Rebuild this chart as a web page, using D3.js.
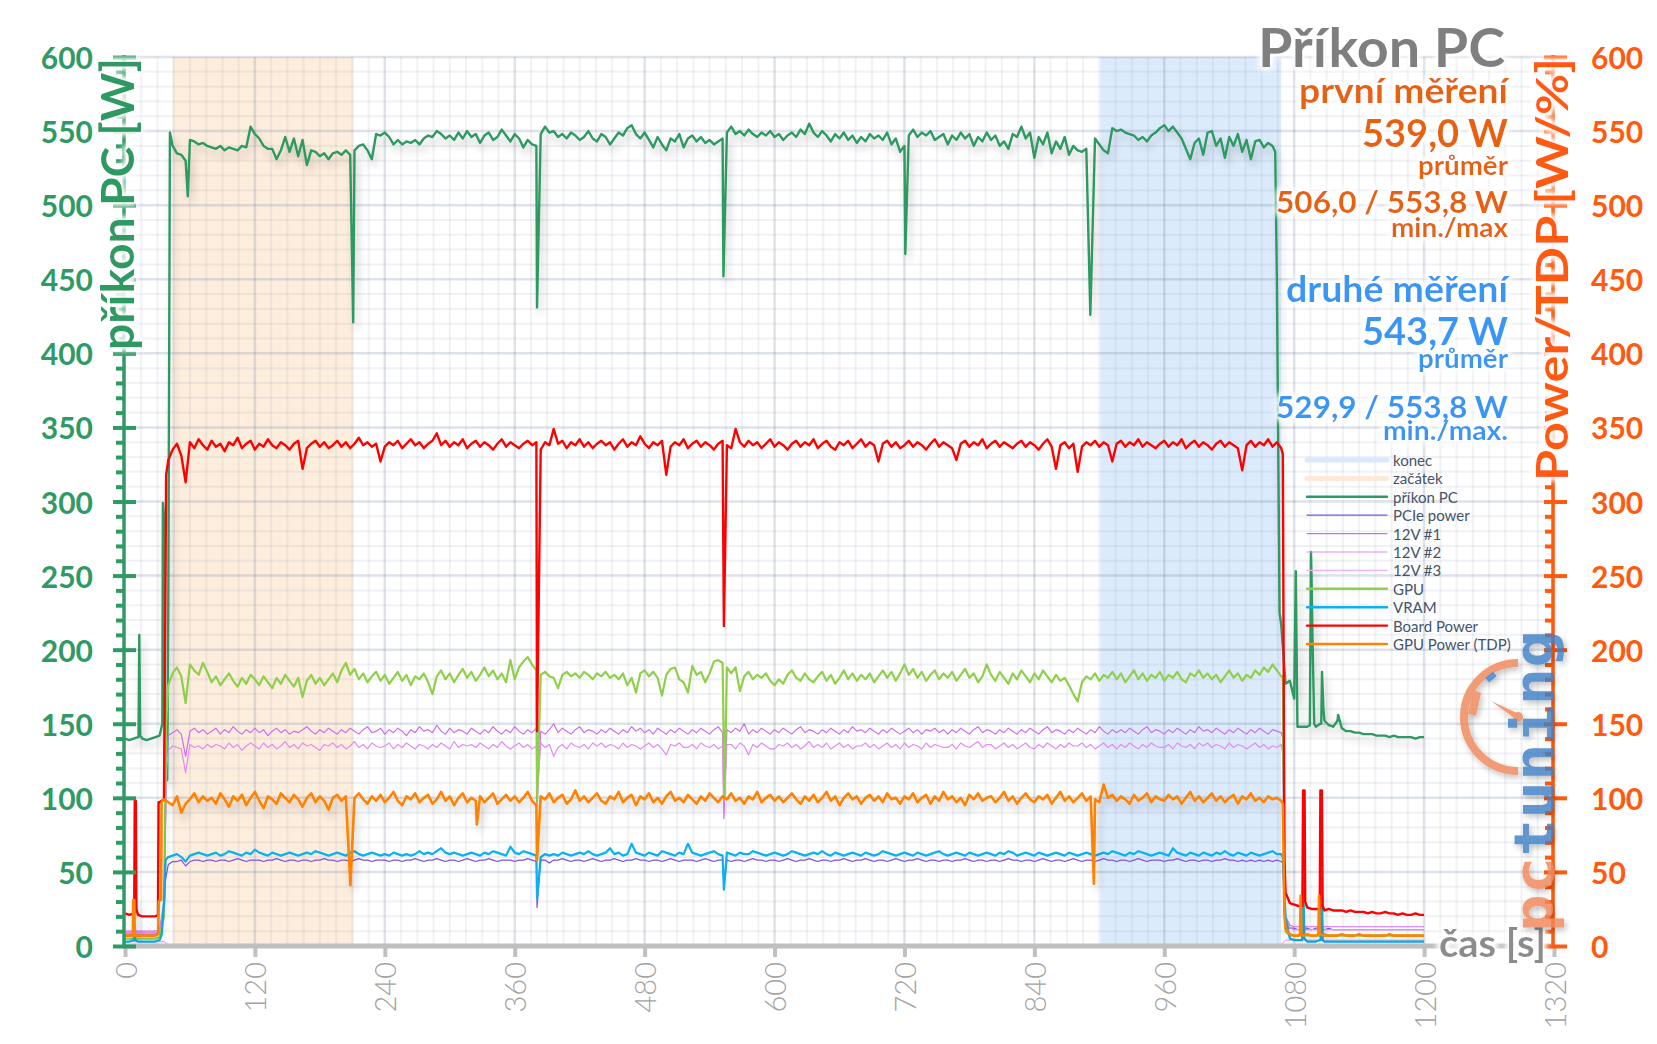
<!DOCTYPE html>
<html><head><meta charset="utf-8">
<script src="https://cdn.jsdelivr.net/npm/d3@7"></script>
<style>html,body{margin:0;padding:0;background:#fff;}svg{display:block;font-family:Lato,"Open Sans",sans-serif;}</style>
</head><body><svg id="c" width="1657" height="1044"></svg>
<script>
// ---------------- DATA ----------------
const STEP = 4; // seconds between samples in the value arrays (t = i*STEP, 0..1200)
const xTicks = [0,120,240,360,480,600,720,840,960,1080,1200,1320];
const yTicks = [0,50,100,150,200,250,300,350,400,450,500,550,600];
const startRange = [44, 211];   // "začátek"
const endRange = [901, 1068];   // "konec"
const titleText = "Příkon PC";
const leftTitle = "příkon PC [W]";
const rightTitle = "Power/TDP [W/%]";
const xTitle = "čas [s]";
const statsFirst = ["první měření","539,0 W","průměr","506,0 / 553,8 W","min./max"];
const statsSecond = ["druhé měření","543,7 W","průměr","529,9 / 553,8 W","min./max."];
const legendLabels = ["konec","začátek","příkon PC","PCIe power","12V #1","12V #2","12V #3","GPU","VRAM","Board Power","GPU Power (TDP)"];

const pcValues = [
140,139,140,141,140,139,140,141,142,290,
230,540,535,534,530,544,543,541,542,540,
539,538,540,537,539,538,537,540,539,553,
548,545,540,538,538,531,537,546,536,545,
533,544,527,537,536,533,535,531,535,536,
534,537,534,537,540,541,537,531,548,547,
549,546,541,544,541,543,542,544,541,545,
547,546,550,548,545,547,544,549,545,550,
546,548,542,547,549,544,546,551,547,543,
548,545,539,544,541,540,548,553,549,550,
546,548,545,549,547,544,546,550,545,543,
548,546,541,545,549,547,552,554,548,545,
549,544,539,546,541,537,545,543,548,539,
545,547,543,546,542,544,541,543,545,549,
553,548,550,547,551,548,546,549,547,550,
546,548,544,547,549,546,551,548,555,549,
546,550,547,543,548,545,549,544,547,542,
546,543,548,545,547,544,549,541,545,536,
540,547,551,546,549,547,550,544,546,548,
541,547,544,549,545,548,540,546,543,549,
544,547,540,543,538,548,546,553,545,549,
532,546,541,549,535,543,538,546,534,540,
537,536,538,541,545,541,537,535,552,550,
551,549,548,547,544,546,543,547,549,552,
554,550,553,549,545,538,531,542,545,534,
549,550,540,545,532,546,540,548,536,544,
531,543,544,539,542,540,450,217,177,179,
167,148,148,148,250,148,150,152,149,148,
152,147,145,145,144,144,143,143,143,142,
142,142,141,142,141,141,141,141,140,141,
141];
const pcEvents = [[12.5,141],[13.2,210],[14,142],[34.5,150],[35,299],[37,112],[39,112],[41.5,549],[58,506],[210.8,421],[380.6,431],[552.8,452],[720.8,467],[891.7,426],[1062.5,536],[1066.5,225],[1081.5,253],[1083,148],[1094.5,149],[1095.5,266],[1097,205],[1098.5,150],[1105,150],[1105.7,185],[1107,160],[1120.6,156]];

const boardValues = [
22,21,22,21,20,20,20,20,97,99,
328,335,339,331,313,340,336,342,338,335,
341,337,339,334,340,338,343,336,339,341,
335,339,337,342,338,336,340,338,335,339,
341,322,336,339,341,337,340,336,338,341,
337,340,336,339,343,338,340,337,339,327,
337,340,338,341,336,339,342,338,340,336,
339,341,346,338,341,337,340,338,342,336,
339,341,337,340,338,335,339,342,337,340,
338,336,339,341,338,340,335,340,338,349,
339,341,336,340,338,342,337,340,336,339,
341,338,340,335,339,342,337,340,338,344,
339,336,340,338,341,318,337,340,338,342,
336,339,341,337,340,338,335,339,341,338,
336,349,340,337,341,338,340,336,339,342,
337,340,338,335,339,341,337,340,338,342,
336,339,341,337,335,340,338,341,336,339,
342,337,340,338,327,339,341,337,340,336,
338,341,337,340,338,335,339,342,337,340,
338,336,328,339,341,337,340,338,342,336,
339,341,337,340,338,336,339,341,337,340,
338,335,339,342,337,322,338,340,336,339,
320,337,340,338,341,337,340,338,327,339,
341,337,340,338,342,337,340,338,336,339,
341,337,340,338,342,336,339,341,337,340,
338,335,339,341,337,340,338,336,321,338,
341,337,340,338,342,337,340,336,36,29,
28,27,26,26,25,25,25,24,25,24,
24,24,23,24,23,23,23,22,23,22,
22,23,22,22,21,22,21,21,22,21,
21];
const boardEvents = [[8.5,22],[9,98],[10,98],[10.5,25],[30.5,21],[31,97],[37,200],[38,318],[380.6,145],[553.2,216],[1069.5,332],[1071,60],[1087.6,27],[1088.2,105],[1089.6,105],[1090.2,30],[1103.6,25],[1104.2,105],[1105.6,105],[1106.3,27]];

const tdpValues = [
7,7,7,7,7,7,7,7,31,99,
97,95,101,90,96,99,103,97,101,98,
100,96,103,99,94,101,98,102,95,100,
104,98,93,101,99,96,103,100,97,102,
99,94,100,103,97,101,98,92,100,102,
98,101,97,100,103,99,96,101,98,102,
97,100,104,98,95,101,99,103,97,100,
102,96,99,104,98,101,95,100,103,97,
100,98,101,97,100,103,96,99,102,98,
101,97,100,104,98,95,101,99,103,97,
100,102,96,99,105,98,101,97,100,103,
98,96,101,99,104,97,100,102,95,101,
99,103,97,100,96,101,104,98,100,97,
102,99,96,101,98,103,100,97,101,99,
103,98,100,96,101,99,104,97,100,102,
98,101,97,100,103,99,96,101,98,102,
97,100,104,98,101,95,100,103,99,101,
96,100,102,98,101,97,103,99,100,96,
101,99,103,97,100,102,96,101,98,104,
99,101,97,100,95,102,99,103,98,100,
101,97,100,104,98,101,96,100,103,99,
97,101,99,102,96,100,104,98,101,97,
100,103,98,101,99,97,109,100,102,98,
101,99,96,102,98,100,103,97,101,99,
98,102,99,101,96,100,104,98,101,97,
100,103,98,101,97,100,102,96,101,99,
103,98,100,97,101,99,100,98,12,8,
7,7,7,8,7,7,7,7,7,7,
7,8,7,7,7,8,7,7,7,7,
7,7,8,7,7,7,7,7,7,7,
7];
const tdpEvents = [[7.2,7],[7.6,31],[8.6,31],[9,7],[30.6,8],[31.2,30],[33.4,31],[33.8,97],[208.2,41],[325,82],[380.6,58],[895,42],[1069.5,96],[1071,21],[1085.4,8],[1086,34],[1086.8,8],[1102.4,8],[1103,34],[1103.6,8]];

const vramValues = [
3,3,4,3,3,3,3,3,4,30,
60,61,62,60,57,61,62,63,62,61,
62,63,61,62,64,63,62,61,63,62,
65,63,62,61,63,62,61,62,63,62,
61,62,63,62,64,63,62,61,62,63,
62,61,63,64,62,61,62,63,62,61,
62,61,63,62,61,62,61,62,64,62,
63,62,64,66,63,62,63,62,61,62,
63,62,61,63,62,64,63,62,61,67,
63,62,64,63,62,61,60,62,61,62,
61,63,62,61,62,63,62,64,62,61,
62,63,66,62,63,61,62,69,63,62,
61,63,62,61,64,63,62,61,63,62,
69,63,62,61,62,63,64,62,61,63,
62,61,63,62,62,64,63,62,61,62,
63,62,61,62,64,63,62,61,62,63,
62,64,62,61,63,62,61,62,63,62,
61,63,62,61,62,64,63,62,61,62,
63,62,61,63,62,61,62,63,64,62,
61,62,63,62,61,63,62,61,62,63,
62,61,63,62,64,63,61,62,63,62,
61,63,62,61,62,63,62,61,63,62,
61,62,63,62,61,62,63,62,64,63,
62,61,63,62,64,63,62,61,62,63,
62,61,66,63,62,61,63,62,61,63,
62,61,63,62,64,62,61,63,62,61,
63,62,61,62,63,64,62,62,20,5,
4,4,4,3,3,3,4,3,3,3,
3,3,3,3,3,3,3,3,3,3,
3,3,3,3,3,3,3,3,3,3,
3];
const vramEvents = [[8.2,4],[8.7,16],[9.4,4],[34,8],[37.5,58],[380.6,32],[553.2,38],[1069.5,60],[1070.5,44],[1087.4,4],[1088.3,47],[1089.4,5],[1104.4,4],[1105.3,47],[1106.4,4]];

const pcieValues = [
8,8,8,8,8,8,8,8,9,20,
55,57,57,58,54,57,58,58,57,58,
58,57,58,58,57,58,59,58,57,58,
58,58,57,58,58,59,58,57,58,58,
57,58,58,57,58,58,59,58,58,57,
58,58,57,58,59,58,58,57,58,58,
58,57,58,58,57,58,58,59,58,57,
58,58,59,58,57,58,58,57,58,59,
58,57,58,58,59,58,57,58,58,58,
57,58,58,59,58,57,58,58,56,58,
58,59,58,57,58,58,57,58,59,58,
57,58,58,59,58,57,58,58,59,58,
58,57,58,58,57,58,59,58,57,58,
58,58,57,58,59,58,57,58,58,58,
57,58,58,57,58,59,58,58,57,58,
58,57,58,59,58,57,58,58,59,58,
57,58,58,57,58,58,59,58,57,58,
58,59,58,57,58,58,57,58,59,58,
57,58,58,59,58,57,58,58,57,58,
58,57,58,58,59,58,57,58,58,57,
58,58,57,58,59,58,58,57,58,58,
57,58,59,58,57,58,58,57,58,59,
58,57,58,58,57,58,59,58,58,57,
58,58,57,58,59,58,57,58,58,58,
57,58,58,59,58,57,58,58,57,58,
58,57,58,58,59,58,58,57,58,57,
58,57,58,57,58,57,58,57,14,12,
12,11,12,12,11,12,12,11,12,11,
11,11,11,11,11,11,11,11,11,11,
11,11,11,11,11,11,11,11,11,11,
11];
const pcieEvents = [[37.5,45],[380.6,26],[553.2,39],[1069.5,56],[1071,20],[1087.5,12],[1088.3,22],[1089.3,12],[1104.5,12],[1105.3,22],[1106.3,12]];

const v12aValues = [
10,10,10,10,10,10,10,10,11,30,
142,144,146,143,128,145,147,144,146,143,
145,147,143,146,144,148,145,143,146,144,
147,144,146,142,145,147,144,146,143,145,
144,146,148,145,143,146,144,147,145,143,
146,144,147,145,143,146,148,144,145,147,
143,146,144,147,145,142,146,144,148,145,
146,144,149,145,143,147,144,146,145,143,
147,145,143,146,144,148,145,143,146,144,
148,145,143,146,144,147,145,143,146,150,
144,147,145,143,146,148,144,146,145,143,
146,144,147,145,143,146,144,148,145,147,
144,146,143,147,145,143,146,144,147,145,
143,146,144,147,145,143,146,148,144,146,
144,147,145,150,143,146,144,147,145,143,
146,144,147,145,143,146,148,144,146,145,
143,146,144,147,145,143,146,144,148,145,
146,144,147,145,143,146,144,147,145,143,
145,147,144,146,143,146,145,147,144,146,
143,146,144,147,145,143,146,148,144,146,
145,143,146,144,147,145,143,146,144,147,
145,143,146,148,144,146,145,143,146,144,
147,145,143,146,144,148,145,143,146,144,
146,144,147,145,143,146,148,144,146,145,
143,146,144,147,145,143,146,144,148,145,
146,144,147,145,143,146,144,147,145,143,
146,144,147,145,143,146,145,144,20,14,
13,13,13,13,13,13,13,13,13,13,
13,13,13,13,13,13,13,13,13,13,
13,13,13,13,13,13,13,13,13,13,
13];
const v12aEvents = [[38.5,130],[380.6,95],[553.2,86],[1069.5,140],[1071,40]];

const v12bValues = [
9,9,9,9,9,9,9,9,10,28,
132,135,134,133,117,136,134,135,133,136,
134,136,135,133,137,134,136,132,135,137,
135,133,137,134,136,133,135,138,134,136,
133,137,135,136,134,132,136,135,137,134,
136,133,135,138,134,136,133,137,135,134,
135,137,133,136,134,137,135,133,136,135,
133,136,134,137,135,133,138,134,136,135,
136,134,137,135,133,136,134,138,135,133,
135,137,134,136,133,135,137,134,136,128,
134,136,133,137,135,134,136,133,137,135,
137,134,136,135,133,137,134,136,135,133,
135,137,134,136,133,129,136,135,137,134,
134,136,133,137,135,134,136,133,135,136,
136,133,137,135,129,136,134,137,135,133,
133,136,135,137,134,136,133,135,138,134,
136,134,137,133,135,137,134,136,133,135,
135,137,134,136,133,135,137,134,136,133,
137,134,136,135,133,137,134,136,135,134,
134,136,133,137,135,134,136,138,134,136,
136,133,135,137,134,136,133,135,137,134,
133,136,134,137,135,133,136,134,137,135,
135,137,134,136,133,135,137,134,136,133,
136,134,137,135,133,136,134,137,135,134,
134,136,133,137,135,134,136,133,137,135,
137,134,136,135,133,137,134,136,135,133,
135,137,134,136,133,135,134,136,18,12,
11,11,11,11,11,11,11,11,11,11,
11,11,11,11,11,11,11,11,11,11,
11,11,11,11,11,11,11,11,11,11,
11];
const v12bEvents = [[38.5,120],[380.6,98],[553.2,90],[1069.5,130],[1071,38]];

const v12cValues = null;
const v12cEvents = [[0,3],[36,3],[40,1],[1068,1],[1072,4],[1200,4]];

const gpuValues = [
5,5,5,5,5,5,5,5,6,20,
176,184,188,182,164,190,186,183,191,185,
178,182,176,180,184,179,175,181,177,183,
180,176,182,178,174,181,177,183,179,175,
181,168,179,183,177,181,176,180,184,178,
186,191,183,187,180,184,178,182,185,179,
183,177,181,185,179,183,176,182,180,184,
178,170,182,186,180,184,178,183,187,181,
185,179,183,188,182,186,180,184,178,193,
180,188,192,195,190,186,183,185,182,181,
174,183,185,182,184,181,185,183,180,184,
182,185,181,183,180,184,176,181,171,184,
186,182,185,181,169,183,187,188,180,178,
171,189,183,185,178,184,192,193,191,188,
184,188,172,182,185,180,183,181,184,179,
176,180,177,183,186,181,179,184,180,178,
182,185,179,183,177,181,186,180,184,179,
183,180,184,178,182,186,181,185,179,184,
190,183,187,181,185,179,183,186,180,184,
181,185,179,183,187,181,184,178,182,190,
183,179,185,181,177,184,180,186,182,178,
184,180,186,182,178,183,179,181,176,170,
165,178,182,180,184,179,183,181,185,180,
184,178,182,186,180,184,179,183,181,185,
179,183,181,185,180,178,184,182,186,181,
184,180,183,178,182,186,181,184,179,183,
181,186,183,188,185,190,186,182,10,7,
7,7,8,7,7,7,7,8,7,7,
7,7,7,7,7,7,7,7,7,7,
7,7,7,7,7,7,7,7,7,7,
7];
const gpuEvents = [[38,150],[380.6,98],[553.8,100],[1069.5,182],[1071,40],[1087.5,7],[1088.3,25],[1089.3,8],[1104.5,7],[1105.3,25],[1106.3,7]];

// ---------------- CHART ----------------
const svg = d3.select('#c');
const L = 125, R = 1554, T = 57, B = 946;
const x = d3.scaleLinear().domain([0,1320]).range([L,R]);
const y = d3.scaleLinear().domain([0,600]).range([B,T]);

const defs = svg.append('defs');
const glow = defs.append('filter').attr('id','glow').attr('x','-20%').attr('y','-20%').attr('width','140%').attr('height','140%');
glow.append('feMorphology').attr('in','SourceAlpha').attr('operator','dilate').attr('radius',2).attr('result','d');
glow.append('feGaussianBlur').attr('in','d').attr('stdDeviation',3).attr('result','b');
glow.append('feFlood').attr('flood-color','#fff').attr('flood-opacity',0.95).attr('result','f');
glow.append('feComposite').attr('in','f').attr('in2','b').attr('operator','in').attr('result','g');
const gm = glow.append('feMerge'); gm.append('feMergeNode').attr('in','g'); gm.append('feMergeNode').attr('in','g'); gm.append('feMergeNode').attr('in','SourceGraphic');

const sh = defs.append('filter').attr('id','shadow').attr('filterUnits','userSpaceOnUse').attr('x',0).attr('y',0).attr('width',1657).attr('height',1044);
sh.append('feGaussianBlur').attr('in','SourceAlpha').attr('stdDeviation',4).attr('result','bl');
sh.append('feOffset').attr('in','bl').attr('dx',3).attr('dy',6).attr('result','of');
const ct = sh.append('feComponentTransfer').attr('in','of').attr('result','sa'); ct.append('feFuncA').attr('type','linear').attr('slope',0.22);
const sm = sh.append('feMerge'); sm.append('feMergeNode').attr('in','sa'); sm.append('feMergeNode').attr('in','SourceGraphic');

const lsh = defs.append('filter').attr('id','logoShadow').attr('x','-30%').attr('y','-10%').attr('width','160%').attr('height','120%');
lsh.append('feGaussianBlur').attr('in','SourceAlpha').attr('stdDeviation',3).attr('result','bl');
lsh.append('feOffset').attr('in','bl').attr('dx',2).attr('dy',3).attr('result','of');
const lct = lsh.append('feComponentTransfer').attr('in','of').attr('result','sa'); lct.append('feFuncA').attr('type','linear').attr('slope',0.3);
const lsm = lsh.append('feMerge'); lsm.append('feMergeNode').attr('in','sa'); lsm.append('feMergeNode').attr('in','SourceGraphic');

// shaded ranges
const ranges = [{r:startRange,c:'#fdeddd'},{r:endRange,c:'#dcebfc'}];
svg.append('g').selectAll('rect').data(ranges).join('rect')
  .attr('x',d=>x(d.r[0])).attr('width',d=>x(d.r[1])-x(d.r[0]))
  .attr('y',T).attr('height',B-T).attr('fill',d=>d.c);

// grid
const gGrid = svg.append('g');
const vMinor = d3.range(0,1321,15).filter(t=>t%120!==0);
const vMajor = d3.range(120,1321,120);
const hMinor = d3.range(10,601,10).filter(v=>v%50!==0);
const hMajor = d3.range(50,601,50);
gGrid.selectAll('.vm').data(vMinor).join('line').attr('x1',d=>x(d)).attr('x2',d=>x(d)).attr('y1',T).attr('y2',B).attr('stroke','#7d8db0').attr('stroke-opacity',0.11).attr('stroke-width',2);
gGrid.selectAll('.hm').data(hMinor).join('line').attr('x1',L).attr('x2',R).attr('y1',d=>y(d)).attr('y2',d=>y(d)).attr('stroke','#7d8db0').attr('stroke-opacity',0.11).attr('stroke-width',2);
gGrid.selectAll('.vM').data(vMajor).join('line').attr('x1',d=>x(d)).attr('x2',d=>x(d)).attr('y1',T).attr('y2',B).attr('stroke','#6b7a9c').attr('stroke-opacity',0.22).attr('stroke-width',2.5);
gGrid.selectAll('.hM').data(hMajor).join('line').attr('x1',L).attr('x2',R).attr('y1',d=>y(d)).attr('y2',d=>y(d)).attr('stroke','#6b7a9c').attr('stroke-opacity',0.22).attr('stroke-width',2.5);

// series
function build(values, events){
  const ev = events.map(([t,v])=>({t,v}));
  const pts = [];
  if (values) values.forEach((v,i)=>{const t=i*STEP; if(!ev.some(e=>Math.abs(e.t-t)<0.5)) pts.push({t,v});});
  return pts.concat(ev).sort((a,b)=>a.t-b.t);
}
const series = [
  {name:'příkon PC', d:build(pcValues,pcEvents), c:'#2e9961', w:2.4, shadow:true},
  {name:'PCIe power', d:build(pcieValues,pcieEvents), c:'#7b52e6', w:1.2},
  {name:'12V #1', d:build(v12aValues,v12aEvents), c:'#cf6cf0', w:1.2},
  {name:'12V #2', d:build(v12bValues,v12bEvents), c:'#e48af2', w:1.2},
  {name:'12V #3', d:build(v12cValues,v12cEvents), c:'#f0b0f6', w:1.2},
  {name:'GPU', d:build(gpuValues,gpuEvents), c:'#8fcf4c', w:2.2},
  {name:'VRAM', d:build(vramValues,vramEvents), c:'#0db0f0', w:2.2},
  {name:'Board Power', d:build(boardValues,boardEvents), c:'#ff0000', w:2.4},
  {name:'GPU Power (TDP)', d:build(tdpValues,tdpEvents), c:'#ff8205', w:2.6, shadow:true}
];
const line = d3.line().x(d=>x(d.t)).y(d=>y(d.v)).curve(d3.curveLinear);
svg.append('g').selectAll('path').data(series).join('path')
  .attr('d',s=>line(s.d)).attr('fill','none').attr('stroke',s=>s.c).attr('stroke-width',s=>s.w)
  .attr('stroke-linejoin','round').attr('filter',s=>s.shadow?'url(#shadow)':null);

// x axis
const xAxis = d3.axisBottom(x).tickValues(xTicks).tickSize(11).tickFormat('');
const gx = svg.append('g').attr('transform',`translate(0,${B})`).call(xAxis);
gx.select('.domain').attr('stroke','#bfbfbf').attr('stroke-width',5).attr('d',`M${L-2},0H${R}`);
gx.selectAll('.tick line').attr('stroke','#c0c0c0').attr('stroke-width',4);
svg.append('g').selectAll('text').data(xTicks).join('text')
  .attr('transform',d=>`translate(${x(d)},962) rotate(-90)`)
  .attr('text-anchor','end').attr('dominant-baseline','central')
  .attr('font-size',29).attr('font-weight',300).attr('fill','#a3a3a3').text(d=>d);

// left axis
const green = '#2f9a64';
const gl = svg.append('g').attr('transform',`translate(${L-1},0)`);
gl.call(d3.axisLeft(y).tickValues(d3.range(0,601,10).filter(v=>v%50)).tickSize(8).tickFormat(''));
gl.call(g=>g.selectAll('.tick line').attr('stroke',green).attr('stroke-width',4));
const gl2 = svg.append('g').attr('transform',`translate(${L-1},0)`).call(d3.axisLeft(y).tickValues(yTicks).tickSize(11).tickFormat(''));
gl2.selectAll('.tick line').attr('stroke',green).attr('stroke-width',4).attr('x2',-11).attr('x1',12);
gl.select('.domain').remove(); gl2.select('.domain').attr('stroke',green).attr('stroke-width',3.5).attr('d',`M0,${T-2}V${B}`);
svg.append('g').selectAll('text').data(yTicks).join('text')
  .attr('x',93).attr('y',d=>y(d)).attr('text-anchor','end').attr('dominant-baseline','central')
  .attr('font-size',30).attr('font-weight',700).attr('fill',green).text(d=>d);

// right axis
const orange = '#ff5a0d';
const gr = svg.append('g').attr('transform',`translate(${R-1},0)`);
gr.call(d3.axisLeft(y).tickValues(d3.range(0,601,10).filter(v=>v%50)).tickSize(8).tickFormat(''));
gr.selectAll('.tick line').attr('stroke',orange).attr('stroke-width',4);
gr.select('.domain').remove();
const gr2 = svg.append('g').attr('transform',`translate(${R-1},0)`).call(d3.axisRight(y).tickValues(yTicks).tickSize(14).tickFormat(''));
gr2.selectAll('.tick line').attr('stroke',orange).attr('stroke-width',4).attr('x1',-9);
gr2.select('.domain').attr('stroke',orange).attr('stroke-width',3.5).attr('d',`M0,${T-2}V${B}`);
svg.append('g').selectAll('text').data(yTicks).join('text')
  .attr('x',1591).attr('y',d=>y(d)).attr('text-anchor','start').attr('dominant-baseline','central')
  .attr('font-size',30).attr('font-weight',700).attr('fill',orange).text(d=>d);

// axis titles
svg.append('text').attr('transform','translate(134,58) rotate(-90)').attr('text-anchor','end')
  .attr('font-size',45).attr('font-weight',700).attr('fill',green).attr('filter','url(#glow)')
  .attr('textLength',292).attr('lengthAdjust','spacingAndGlyphs').text(leftTitle);
svg.append('text').attr('transform','translate(1568,58) rotate(-90)').attr('text-anchor','end')
  .attr('font-size',44).attr('font-weight',700).attr('fill',orange).attr('filter','url(#glow)')
  .attr('textLength',423).attr('lengthAdjust','spacingAndGlyphs').text(rightTitle);
svg.append('text').attr('x',1546).attr('y',957).attr('text-anchor','end')
  .attr('font-size',38).attr('font-weight',700).attr('fill','#8c8c8c').attr('filter','url(#glow)')
  .attr('textLength',107).attr('lengthAdjust','spacingAndGlyphs').text(xTitle);

// title and stats
const gT = svg.append('g').attr('filter','url(#glow)').attr('font-weight',700).attr('text-anchor','end');
gT.append('text').attr('x',1505).attr('y',67).attr('font-size',54).attr('fill','#7f7f7f')
  .attr('textLength',247).attr('lengthAdjust','spacingAndGlyphs').text(titleText);
const firstPos = [[103,35,209],[147,38,146],[175,27,90],[213,31,232],[237,27,117]];
const secondPos = [[302,36,222],[345,38,146],[368,27,90],[418,31,232],[440,27,125]];
gT.selectAll('.f').data(statsFirst).join('text').attr('x',1508).attr('y',(d,i)=>firstPos[i][0])
  .attr('font-size',(d,i)=>firstPos[i][1]).attr('textLength',(d,i)=>firstPos[i][2]).attr('lengthAdjust','spacingAndGlyphs')
  .attr('fill','#e8620c').text(d=>d);
gT.selectAll('.s').data(statsSecond).join('text').attr('x',1508).attr('y',(d,i)=>secondPos[i][0])
  .attr('font-size',(d,i)=>secondPos[i][1]).attr('textLength',(d,i)=>secondPos[i][2]).attr('lengthAdjust','spacingAndGlyphs')
  .attr('fill','#3797f5').text(d=>d);

// legend
const legendStyle = [
  {c:'#d9e8fb',w:5},{c:'#fde9d8',w:5},{c:'#2e9961',w:2.4},{c:'#7b52e6',w:1.2},{c:'#cf6cf0',w:1.2},
  {c:'#e48af2',w:1.2},{c:'#f0b0f6',w:1.2},{c:'#8fcf4c',w:2.4},{c:'#0db0f0',w:2.4},{c:'#ff0000',w:2.4},{c:'#ff8205',w:2.4}];
const gLeg = svg.append('g');
const le = gLeg.selectAll('g').data(legendLabels).join('g').attr('transform',(d,i)=>`translate(0,${460+i*18.4})`);
le.append('line').attr('x1',1307).attr('x2',1387).attr('stroke',(d,i)=>legendStyle[i].c).attr('stroke-width',(d,i)=>legendStyle[i].w).attr('stroke-linecap','round');
le.append('text').attr('x',1393).attr('y',0).attr('dominant-baseline','central').attr('font-size',15).attr('fill','#44546a').text(d=>d);

// logo watermark
const gLogo = svg.append('g').attr('opacity',0.82).attr('filter','url(#logoShadow)');
gLogo.append('path').attr('d','M1518,663 A54,54 0 0 0 1518,771').attr('fill','none').attr('stroke','#f0875a').attr('stroke-width',8);
gLogo.append('path').attr('d','M1473,690 L1481,693 L1476,716 L1468,714 Z').attr('fill','#f0875a');
gLogo.append('rect').attr('x',1486).attr('y',674).attr('width',10).attr('height',6).attr('transform','rotate(-40,1491,677)').attr('fill','#3f7fc4');
gLogo.append('path').attr('d','M1491,701 L1519,714 L1517,720 Z').attr('fill','#f0875a');
gLogo.append('circle').attr('cx',1518).attr('cy',717).attr('r',5).attr('fill','#f0875a');
const logoT = gLogo.append('text').attr('transform','translate(1553,932) rotate(-90)')
  .attr('font-family','"DejaVu Sans Mono",monospace').attr('font-weight',700).attr('font-size',56)
  .attr('textLength',302).attr('lengthAdjust','spacingAndGlyphs');
logoT.append('tspan').attr('fill','#f0875a').text('pc');
logoT.append('tspan').attr('fill','#3f7fc4').text('tuning');
</script></body></html>
